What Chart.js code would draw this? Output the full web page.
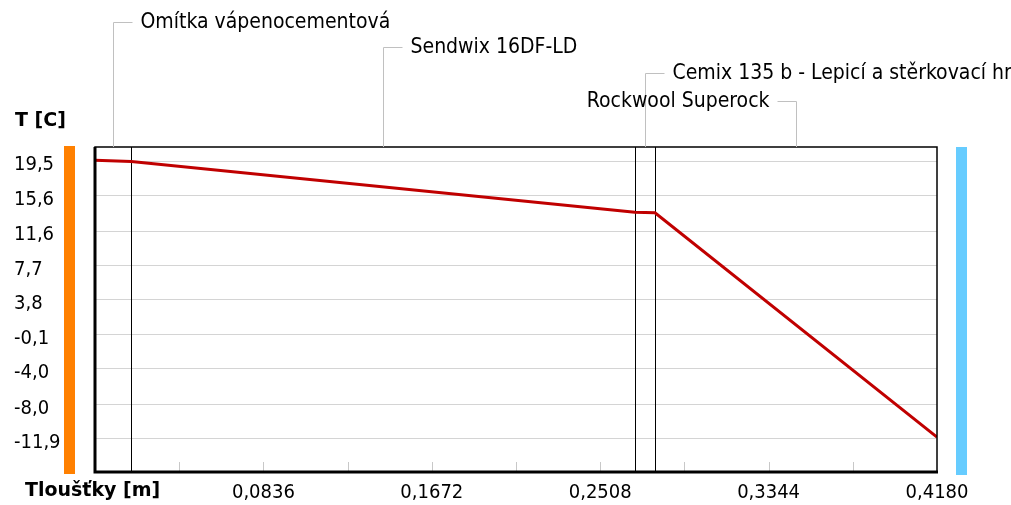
<!DOCTYPE html>
<html>
<head>
<meta charset="utf-8">
<script src="https://cdn.jsdelivr.net/npm/chart.js@4/dist/chart.umd.min.js"></script>
<style>
  body { margin: 0; background: #fff; }
  canvas { display: block; }
</style>
</head>
<body>
<canvas id="myChart" width="1011" height="505"></canvas>
<script>
// layers of the wall
const layerNames = [
  "Omítka vápenocementová",
  "Sendwix 16DF-LD",
  "Cemix 135 b - Lepicí a stěrkovací hmota",
  "Rockwool Superock",
];
const layerBounds = [0, 0.018, 0.268, 0.278, 0.418];

// temperature profile
const depthData = [0, 0.018, 0.268, 0.278, 0.418];
const tempData = [19.6, 19.45, 13.72, 13.66, -11.7];

// axis ticks
const yTickValues = [19.5, 15.6, 11.6, 7.7, 3.8, -0.1, -4.0, -8.0, -11.9];
const yTickLabels = ["19,5", "15,6", "11,6", "7,7", "3,8", "-0,1", "-4,0", "-8,0", "-11,9"];
const xTickValues = [0, 0.0418, 0.0836, 0.1254, 0.1672, 0.209, 0.2508, 0.2926, 0.3344, 0.3762, 0.418];
const xTickLabels = ["", "", "0,0836", "", "0,1672", "", "0,2508", "", "0,3344", "", "0,4180"];

const FONT = "DejaVu Sans Condensed";

// frame, layer lines, side bars, labels
const decor = {
  id: "decor",
  beforeDatasetsDraw(chart) {
    const { ctx, chartArea: a, scales } = chart;
    const xs = scales.x;
    ctx.save();
    // small tick marks inside the plot
    ctx.strokeStyle = "#c8c8c8";
    ctx.lineWidth = 1;
    xTickValues.forEach((v, i) => {
      if (i === 0 || i === xTickValues.length - 1) return;
      const px = Math.round(xs.getPixelForValue(v)) + 0.5;
      ctx.beginPath();
      ctx.moveTo(px, a.bottom);
      ctx.lineTo(px, a.bottom - 10);
      ctx.stroke();
    });
    // layer boundaries
    ctx.strokeStyle = "#000";
    for (let i = 1; i < layerBounds.length - 1; i++) {
      const px = Math.round(xs.getPixelForValue(layerBounds[i])) + 0.5;
      ctx.beginPath();
      ctx.moveTo(px, a.top);
      ctx.lineTo(px, a.bottom);
      ctx.stroke();
    }
    ctx.restore();
  },
  afterDraw(chart) {
    const { ctx, chartArea: a, scales } = chart;
    const xs = scales.x;
    ctx.save();
    // frame
    ctx.strokeStyle = "#000";
    ctx.lineWidth = 1.5;
    ctx.strokeRect(a.left, a.top, a.right - a.left, a.bottom - a.top);
    ctx.lineWidth = 3;
    ctx.beginPath();
    ctx.moveTo(a.left, a.top);
    ctx.lineTo(a.left, a.bottom);
    ctx.lineTo(a.right + 1, a.bottom);
    ctx.stroke();

    // interior / exterior bars
    ctx.fillStyle = "#ff8000";
    ctx.fillRect(a.left - 31, a.top - 1, 11, a.bottom - a.top + 3);
    ctx.fillStyle = "#66ccff";
    ctx.fillRect(a.right + 19, a.top, 11, a.bottom - a.top + 3);

    // axis titles
    ctx.fillStyle = "#000";
    ctx.font = "bold 19px DejaVu Sans";
    ctx.textBaseline = "middle";
    ctx.textAlign = "left";
    ctx.fillText("T [C]", 15, 121);
    ctx.fillText("Tloušťky [m]", 25, 491);

    // layer labels with leaders
    const rows = [22, 47, 73, 101];
    const side = [1, 1, 1, -1];
    ctx.font = "21px " + FONT;
    ctx.strokeStyle = "#c0c0c0";
    ctx.lineWidth = 1;
    layerNames.forEach((name, i) => {
      const mid = (layerBounds[i] + layerBounds[i + 1]) / 2;
      const px = Math.round(xs.getPixelForValue(mid)) + 0.5;
      const py = rows[i] + 0.5;
      ctx.beginPath();
      ctx.moveTo(px, a.top);
      ctx.lineTo(px, py);
      ctx.lineTo(px + side[i] * 19, py);
      ctx.stroke();
      ctx.textAlign = side[i] > 0 ? "left" : "right";
      ctx.fillText(name, px + side[i] * 27, rows[i] + 1);
    });
    ctx.restore();
  },
};

const data = {
  datasets: [
    {
      data: depthData.map((d, i) => ({ x: d, y: tempData[i] })),
      borderColor: "#c00000",
      borderWidth: 3,
      pointRadius: 0,
      tension: 0,
      showLine: true,
      fill: false,
    },
  ],
};

const config = {
  type: "scatter",
  data,
  plugins: [decor],
  options: {
    responsive: false,
    animation: false,
    layout: { padding: { top: 147, right: 74, left: 14, bottom: 0 } },
    plugins: { legend: { display: false }, tooltip: { enabled: false } },
    scales: {
      x: {
        type: "linear",
        min: 0,
        max: 0.418,
        afterBuildTicks: (s) => { s.ticks = xTickValues.map((v) => ({ value: v })); },
        afterFit: (s) => { s.height = 33; },
        grid: { display: false, drawTicks: false },
        border: { display: false },
        ticks: {
          autoSkip: false,
          maxRotation: 0,
          padding: 9,
          color: "#000",
          font: { family: FONT, size: 20 },
          callback: (v, i) => xTickLabels[i],
        },
      },
      y: {
        min: -15.65,
        max: 21.1,
        afterBuildTicks: (s) => { s.ticks = yTickValues.map((v) => ({ value: v })); },
        afterFit: (s) => { s.width = 81; },
        grid: { color: "#d4d4d4", lineWidth: 1, drawTicks: false },
        border: { display: false },
        ticks: {
          autoSkip: false,
          crossAlign: "far",
          labelOffset: 4,
          color: "#000",
          font: { family: FONT, size: 20 },
          callback: (v, i) => yTickLabels[i],
        },
      },
    },
  },
};

const myChart = new Chart(document.getElementById("myChart"), config);
</script>
</body>
</html>
